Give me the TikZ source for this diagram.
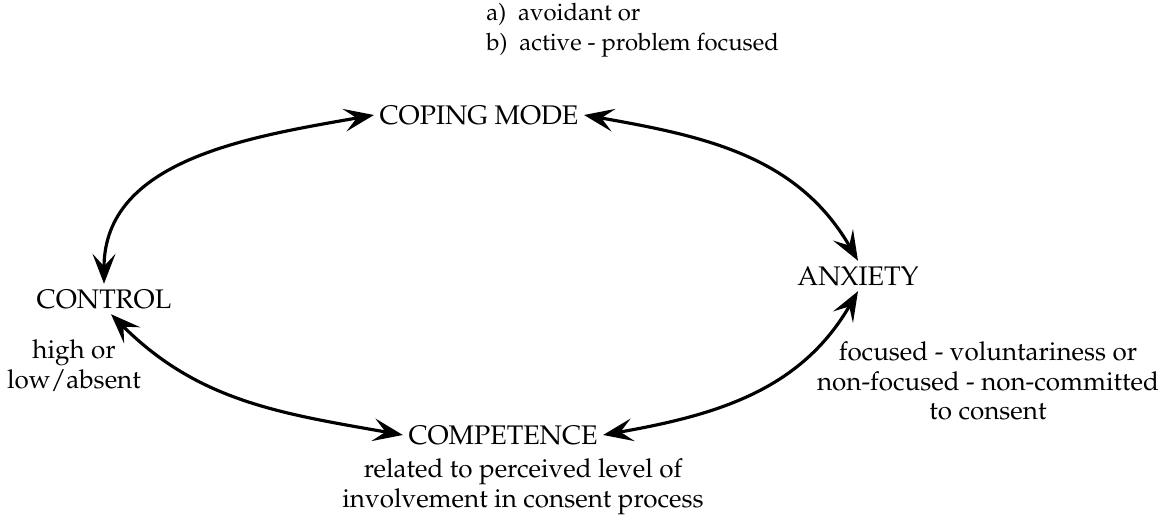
\documentclass[tikz,border=0pt]{standalone}
\usepackage[T1]{fontenc}
\renewcommand{\rmdefault}{ppl}
\usepackage{tikz}
\usetikzlibrary{arrows.meta}

\begin{document}
\begin{tikzpicture}[x=0.02cm,y=0.02cm,
  >={Stealth[length=17pt,width=13pt,inset=7pt]},
  lbl/.style={inner sep=3pt,font=\fontsize{15.3}{18}\selectfont},
  note/.style={align=center,inner sep=0pt,font=\fontsize{14.8}{17}\selectfont},
  link/.style={<->,line width=1.8pt}]
  \useasboundingbox (0,0) rectangle (1170,524);
  % the four factors
  \node[lbl] (coping) at (479,409) {COPING MODE};
  \node[lbl] (control) at (104,225) {CONTROL};
  \node[lbl] (anxiety) at (858,248) {ANXIETY};
  \node[lbl] (competence) at (503,89) {COMPETENCE};
  % notes
  \node[note,align=left,anchor=north west,font=\fontsize{13.6}{17}\selectfont] (modes) at (486,521) {a)~~avoidant or\\ b)~~active - problem focused};
  \node[note] (ctrlnote) at (74,158) {high or\\ low/absent};
  \node[note] (anxnote) at (988,143) {focused - voluntariness or\\ non-focused - non-committed\\ to consent};
  \node[note] (compnote) at (523,37) {related to perceived level of\\ involvement in consent process};
  % the loop
  \draw[link] (coping.west) to[out=190,in=90] (control.north);
  \draw[link] (coping.east) to[out=-10,in=120] (anxiety.north);
  \draw[link] (anxiety.south) to[out=240,in=10] (competence.east);
  \draw[link] (competence.west) to[out=170,in=-45] ([xshift=4pt]control.south);
\end{tikzpicture}
\end{document}
